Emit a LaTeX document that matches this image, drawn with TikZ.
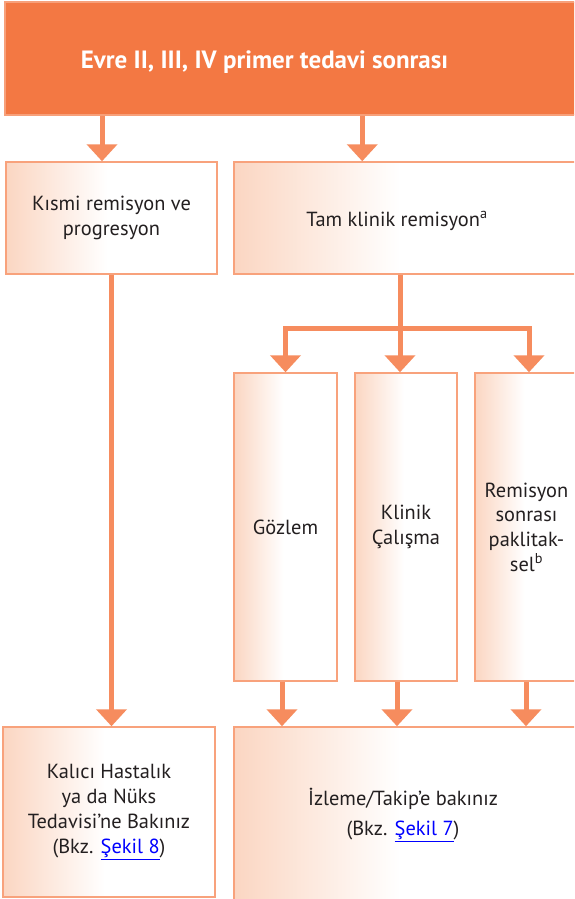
\documentclass[tikz,border=0pt]{standalone}
\usepackage{fontspec}
\setmainfont{PT Sans}
\usetikzlibrary{arrows.meta}

\definecolor{headfill}{HTML}{F37843}
\definecolor{headedge}{HTML}{F7A07A}
\definecolor{boxedge}{HTML}{F8A27C}
\definecolor{arrowc}{HTML}{F68C5E}
\definecolor{peach}{HTML}{FBD6C2}
\definecolor{ink}{HTML}{231F20}
\definecolor{linkblue}{HTML}{0000FF}

% peach on the left edge, fading to white by the middle of the box
\pgfdeclarehorizontalshading{peachfade}{100bp}{color(0bp)=(peach); color(25bp)=(peach); color(49bp)=(white); color(100bp)=(white)}

\newcommand\figlink[1]{\textcolor{linkblue}{\underline{#1}}}

\tikzset{
  headbox/.style={rectangle, draw=headedge, fill=headfill, line width=1.5pt, inner sep=0pt},
  headtext/.style={text=white, font=\fontsize{25}{29}\selectfont\bfseries, inner sep=0pt},
  box/.style={rectangle, draw=boxedge, line width=1.5pt, shade, shading=peachfade,
              inner sep=0pt, text=ink, align=center, font=\fontsize{20.4}{24.7}\selectfont},
  boxtext/.style={text=ink, align=center, inner sep=0pt, font=\fontsize{20.4}{24.7}\selectfont},
  flow/.style={draw=arrowc, line width=5pt},
  arr/.style={flow, -{Triangle[width=30pt,length=17pt]}}
}

\begin{document}
\begin{tikzpicture}[x=1pt,y=-1pt]
\useasboundingbox (0,0) rectangle (574,899);
\clip (0,0) rectangle (574,899);
\fill[white] (0,0) rectangle (574,899);

% header band
\node[headbox, minimum width=595pt, minimum height=113pt] (head) at (302.5,58.5) {};
\node[headtext] (headtxt) at (264.5,62) {Evre II, III, IV primer tedavi sonrası};

% second row
\node[box, minimum width=211pt, minimum height=112pt] (kismi) at (111.5,218)
  {Kısmi remisyon ve\\progresyon};
\node[box, minimum width=346pt, minimum height=112pt] (tam) at (407,218) {};
\node[boxtext] (tamtxt) at (397,221) {Tam klinik remisyon\textsuperscript{a}};

% options after complete remission
\node[box, minimum width=103pt, minimum height=308pt] (gozlem) at (285.5,527) {Gözlem};
\node[box, minimum width=102pt, minimum height=308pt] (klinik) at (406,527) {Klinik\\Çalışma};
\node[box, minimum width=103pt, minimum height=308pt] (remisyon) at (526.5,527)
  {Remisyon\\sonrası\\paklitak-\\sel\textsuperscript{b}};

% bottom row
\node[box, minimum width=212pt, minimum height=170pt] (kalici) at (109,812)
  {Kalıcı Hastalık\\ya da Nüks\\Tedavisi’ne Bakınız\\(Bkz. \figlink{Şekil 8})};
\node[box, minimum width=346pt, minimum height=193pt] (izleme) at (407,823.5) {};
\node[boxtext] (izlemetxt) at (403,815)
  {İzleme/Takip’e bakınız\\[6pt](Bkz. \figlink{Şekil 7})};

% connectors
\draw[arr] ([xshift=-9.5pt]kismi.north |- head.south) -- ([xshift=-9.5pt]kismi.north);
\draw[arr] ([xshift=129pt]tam.north west |- head.south) -- ([xshift=129pt]tam.north west);
\draw[arr] (kismi.south) -- (kismi.south |- kalici.north);

\coordinate (split) at (400,328);
\draw[flow] (split |- tam.south) -- (split);
\draw[arr] (split) -| (gozlem.north);
\draw[arr] (split) -- (split |- klinik.north);
\draw[arr] (split) -| ([xshift=2.5pt]remisyon.north);

\draw[arr] ([xshift=-3.5pt]gozlem.south) -- ([xshift=-3.5pt]gozlem.south |- izleme.north);
\draw[arr] ([xshift=-9pt]klinik.south) -- ([xshift=-9pt]klinik.south |- izleme.north);
\draw[arr] ([xshift=-0.5pt]remisyon.south) -- ([xshift=-0.5pt]remisyon.south |- izleme.north);
\end{tikzpicture}
\end{document}
